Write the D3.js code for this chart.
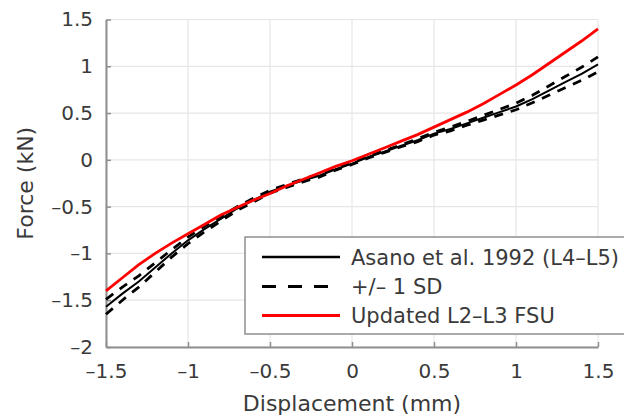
<!DOCTYPE html>
<html>
<head>
<meta charset="utf-8">
<script src="https://cdn.jsdelivr.net/npm/d3@7"></script>
<style>
  html, body { margin: 0; padding: 0; background: #fff; }
  svg { display: block; font-family: "DejaVu Sans", sans-serif; }
</style>
</head>
<body>
<svg id="chart" width="624" height="419"></svg>
<script>
// Displacement (mm)
const displacement = [-1.5, -1.4, -1.3, -1.2, -1.1, -1.0, -0.9, -0.8, -0.7, -0.6, -0.5,
  -0.4, -0.3, -0.2, -0.1, 0.0, 0.1, 0.2, 0.3, 0.4, 0.5,
  0.6, 0.7, 0.8, 0.9, 1.0, 1.1, 1.2, 1.3, 1.4, 1.5];

// Asano et al. 1992 (L4-L5) mean force (kN)
const asanoMean = [-1.57, -1.43, -1.30, -1.15, -1.00, -0.86, -0.74, -0.63, -0.52, -0.43, -0.34,
  -0.28, -0.22, -0.17, -0.10, -0.04, 0.03, 0.09, 0.15, 0.21, 0.28,
  0.33, 0.39, 0.45, 0.51, 0.57, 0.65, 0.74, 0.83, 0.92, 1.02];

// mean + 1 SD
const asanoUpper = [-1.49, -1.36, -1.24, -1.10, -0.96, -0.825, -0.71, -0.605, -0.50, -0.41, -0.325,
  -0.265, -0.205, -0.155, -0.09, -0.03, 0.04, 0.10, 0.16, 0.225, 0.295,
  0.35, 0.41, 0.475, 0.54, 0.605, 0.69, 0.79, 0.89, 0.99, 1.10];

// mean - 1 SD
const asanoLower = [-1.65, -1.50, -1.36, -1.20, -1.04, -0.895, -0.77, -0.655, -0.54, -0.45, -0.355,
  -0.295, -0.235, -0.185, -0.11, -0.05, 0.02, 0.08, 0.14, 0.195, 0.265,
  0.31, 0.37, 0.425, 0.48, 0.535, 0.61, 0.69, 0.77, 0.85, 0.94];

// Updated L2-L3 FSU force (kN)
const updatedFSU = [-1.40, -1.26, -1.12, -1.00, -0.89, -0.79, -0.69, -0.59, -0.51, -0.43, -0.36,
  -0.28, -0.21, -0.14, -0.07, -0.01, 0.06, 0.13, 0.20, 0.27, 0.35,
  0.43, 0.51, 0.60, 0.70, 0.80, 0.91, 1.03, 1.15, 1.27, 1.40];

const xTicks = [-1.5, -1, -0.5, 0, 0.5, 1, 1.5];
const yTicks = [-2, -1.5, -1, -0.5, 0, 0.5, 1, 1.5];

const legendLabels = ["Asano et al. 1992 (L4\u2013L5)", "+/\u2013 1 SD", "Updated L2\u2013L3 FSU"];

const fmt = v => String(v).replace("-", "\u2013");

const svg = d3.select("#chart");
const plotLeft = 106, plotRight = 598, plotTop = 19.5, plotBottom = 347;

const x = d3.scaleLinear().domain([-1.5, 1.5]).range([plotLeft, plotRight]);
const y = d3.scaleLinear().domain([-2, 1.5]).range([plotBottom, plotTop]);

const textColor = "#3a3a3a";
const axisColor = "#8f8f8f";

// grid
const grid = svg.append("g");
grid.selectAll("line.gx").data(xTicks).join("line")
  .attr("x1", d => x(d)).attr("x2", d => x(d))
  .attr("y1", plotTop).attr("y2", plotBottom)
  .attr("stroke", "#e6e6e6").attr("stroke-width", 1.2);
grid.selectAll("line.gy").data(yTicks).join("line")
  .attr("x1", plotLeft).attr("x2", plotRight)
  .attr("y1", d => y(d)).attr("y2", d => y(d))
  .attr("stroke", "#e6e6e6").attr("stroke-width", 1.2);

// axes (ticks pointing inward)
const xAxis = svg.append("g").attr("transform", `translate(0,${plotBottom})`)
  .call(d3.axisBottom(x).tickValues(xTicks).tickSizeInner(-5).tickSizeOuter(0).tickPadding(17).tickFormat(fmt));
const yAxis = svg.append("g").attr("transform", `translate(${plotLeft},0)`)
  .call(d3.axisLeft(y).tickValues(yTicks).tickSizeInner(-5).tickSizeOuter(0).tickPadding(13).tickFormat(fmt));

[xAxis, yAxis].forEach(a => {
  a.select(".domain").attr("stroke", axisColor).attr("stroke-width", 2);
  a.selectAll(".tick line").attr("stroke", axisColor).attr("stroke-width", 1.5);
  a.selectAll(".tick text").attr("fill", textColor)
    .style("font-size", "20px").style("font-family", "DejaVu Sans, sans-serif");
});

// curves
const series = (vals) => displacement.map((d, i) => [d, vals[i]]);
const line = d3.line().x(d => x(d[0])).y(d => y(d[1]));

const plot = svg.append("g");
plot.append("path").datum(series(asanoMean))
  .attr("d", line).attr("fill", "none").attr("stroke", "#000").attr("stroke-width", 2);
[asanoUpper, asanoLower].forEach(vals => {
  plot.append("path").datum(series(vals))
    .attr("d", line).attr("fill", "none").attr("stroke", "#000")
    .attr("stroke-width", 2.8).attr("stroke-dasharray", "9,8");
});
plot.append("path").datum(series(updatedFSU))
  .attr("d", line).attr("fill", "none").attr("stroke", "#ff0000").attr("stroke-width", 2.8);

// axis titles
svg.append("text")
  .attr("x", (plotLeft + plotRight) / 2).attr("y", 411)
  .attr("text-anchor", "middle").attr("fill", textColor)
  .style("font-size", "22px").text("Displacement (mm)");
svg.append("text")
  .attr("transform", `translate(33,${y(-0.25)}) rotate(-90)`)
  .attr("text-anchor", "middle").attr("fill", textColor)
  .style("font-size", "22px").text("Force (kN)");

// legend
const lg = svg.append("g");
lg.append("rect")
  .attr("x", 245).attr("y", 237).attr("width", 390).attr("height", 97)
  .attr("fill", "#fff").attr("stroke", axisColor).attr("stroke-width", 1.5);
const rowsY = [257, 286.5, 315.5];
const styles = [
  { color: "#000", dash: null, w: 2.5 },
  { color: "#000", dash: "14,12", w: 3 },
  { color: "#ff0000", dash: null, w: 2.8 }
];
legendLabels.forEach((label, i) => {
  const s = styles[i];
  lg.append("line")
    .attr("x1", 262).attr("x2", 340).attr("y1", rowsY[i]).attr("y2", rowsY[i])
    .attr("stroke", s.color).attr("stroke-width", s.w)
    .attr("stroke-dasharray", s.dash);
  lg.append("text")
    .attr("x", 351).attr("y", rowsY[i]).attr("dy", "0.36em")
    .attr("fill", textColor).style("font-size", "21px").text(label);
});
</script>
</body>
</html>
